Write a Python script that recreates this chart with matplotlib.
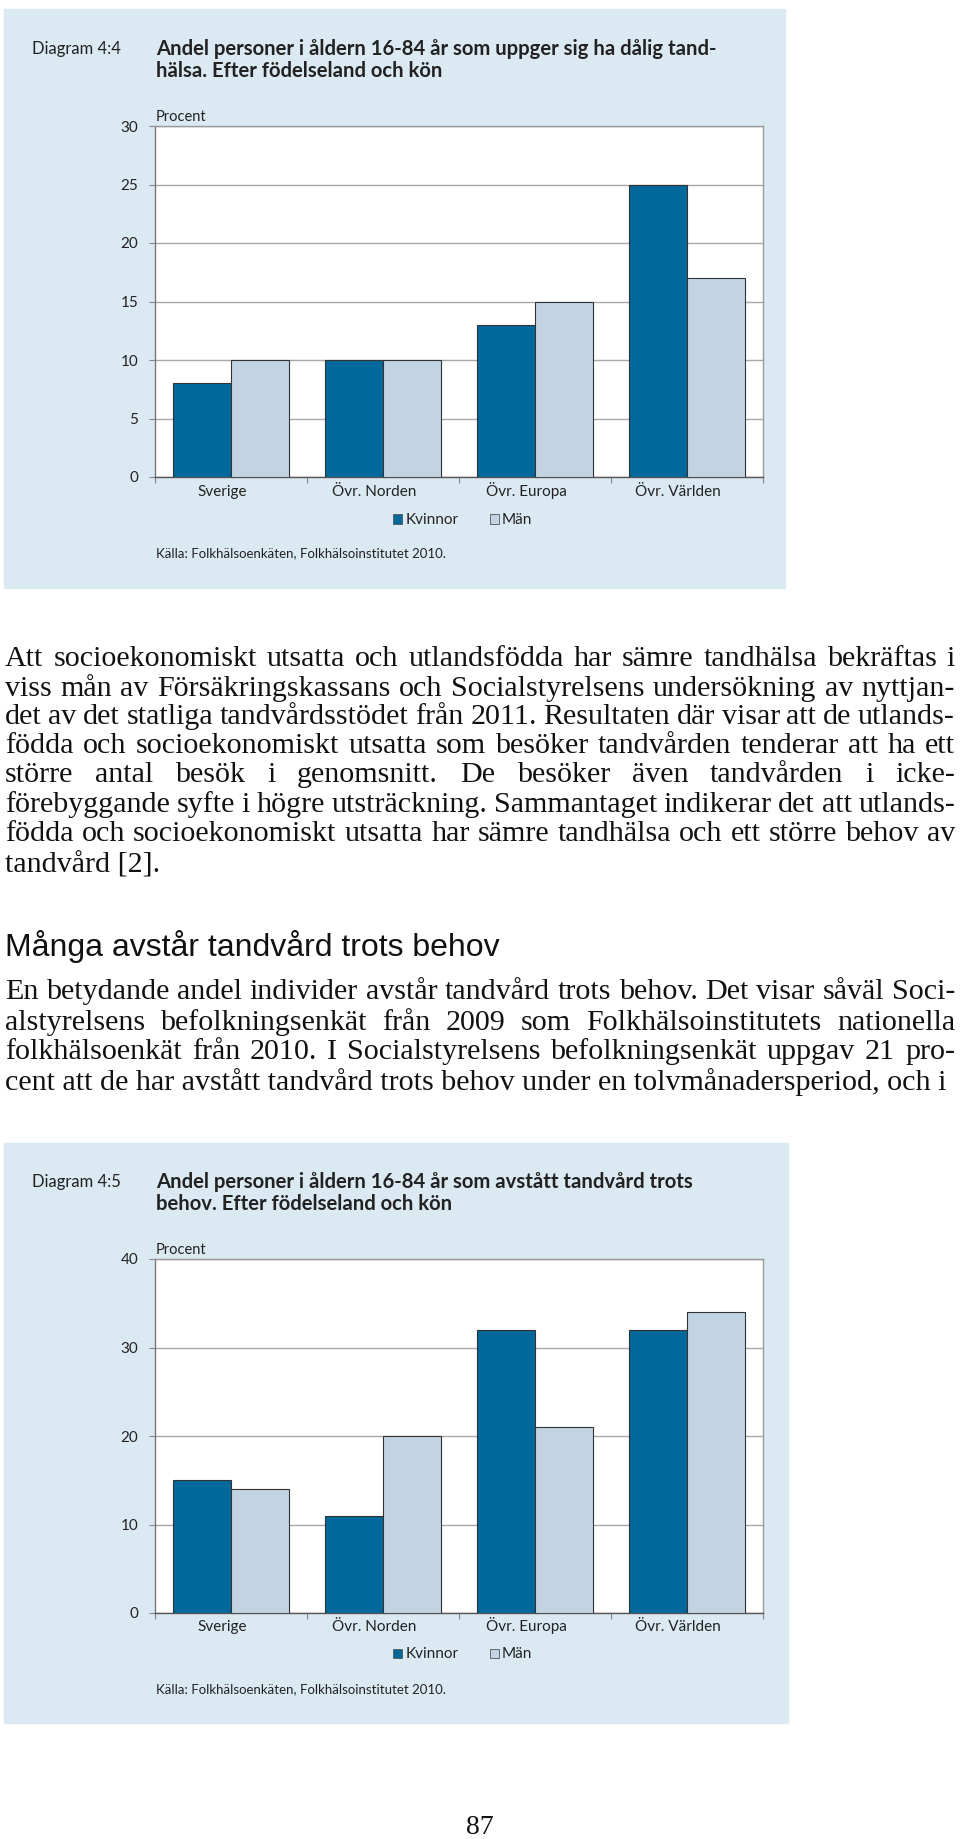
import numpy as np
import matplotlib
matplotlib.use("Agg")
import matplotlib.pyplot as plt
from matplotlib.patches import Rectangle

# Data
kategorier = ["Sverige", "Övr. Norden", "Övr. Europa", "Övr. Världen"]
tand_kvinnor = [8, 10, 13, 25]
tand_man = [10, 10, 15, 17]
avstatt_kvinnor = [15, 11, 32, 32]
avstatt_man = [14, 20, 21, 34]
ticks_44 = [0, 5, 10, 15, 20, 25, 30]
ticks_45 = [0, 10, 20, 30, 40]

stycke1 = [
    "Att socioekonomiskt utsatta och utlandsfödda har sämre tandhälsa bekräftas i",
    "viss mån av Försäkringskassans och Socialstyrelsens undersökning av nyttjan-",
    "det av det statliga tandvårdsstödet från 2011. Resultaten där visar att de utlands-",
    "födda och socioekonomiskt utsatta som besöker tandvården tenderar att ha ett",
    "större antal besök i genomsnitt. De besöker även tandvården i icke-",
    "förebyggande syfte i högre utsträckning. Sammantaget indikerar det att utlands-",
    "födda och socioekonomiskt utsatta har sämre tandhälsa och ett större behov av",
    "tandvård [2].",
]
rubrik = "Många avstår tandvård trots behov"
stycke2 = [
    "En betydande andel individer avstår tandvård trots behov. Det visar såväl Soci-",
    "alstyrelsens befolkningsenkät från 2009 som Folkhälsoinstitutets nationella",
    "folkhälsoenkät från 2010. I Socialstyrelsens befolkningsenkät uppgav 21 pro-",
    "cent att de har avstått tandvård trots behov under en tolvmånadersperiod, och i",
]

W, H = 960, 1839
MORK = "#00689b"
LJUS = "#c2d4e3"
PANEL = "#dbe9f3"
CHART_FONT = "Lato"
SERIF = "Liberation Serif"

fig = plt.figure(figsize=(W / 100, H / 100), dpi=100)


def fx(x):
    return x / W


def fy(y):
    return 1 - y / H


def ftext(x, y, s, **kw):
    # y är textens mitt; flytta till baslinjen
    storlek = kw.get("fontsize", 10) * 100 / 72
    return fig.text(fx(x), fy(y + 0.34 * storlek), s, va="baseline", **kw)


def diagram(top, bottom, nr, titel, kv, ma, ticks, ymax, y_title, y_proc,
            y_lab, y_leg, y_src, panel):
    px0, py0, px1, py1 = panel
    fig.patches.append(Rectangle((fx(px0), fy(py1)), fx(px1 - px0), (py1 - py0) / H,
                                 transform=fig.transFigure, color=PANEL, zorder=-10))
    ftext(32, y_title, nr, fontsize=12, family=CHART_FONT, color="#222")
    ftext(156, y_title, titel[0], fontsize=14.6, family=CHART_FONT,
          weight="bold", color="#222")
    ftext(156, y_title + 22, titel[1], fontsize=14.6, family=CHART_FONT,
          weight="bold", color="#222")
    ftext(156, y_proc, "Procent", fontsize=10.5, family=CHART_FONT, color="#222")

    ax = fig.add_axes([fx(155), fy(bottom), fx(763 - 155), (bottom - top) / H])
    ax.set_zorder(2)
    x = np.arange(len(kategorier))
    w = 0.38
    ax.bar(x - w / 2, kv, w, color=MORK, edgecolor="#333", linewidth=0.8, zorder=3)
    ax.bar(x + w / 2, ma, w, color=LJUS, edgecolor="#333", linewidth=0.8, zorder=3)
    ax.set_xlim(-0.5, 3.5)
    ax.set_ylim(0, ymax)
    ax.set_yticks(ticks)
    ax.set_yticklabels([str(t) for t in ticks], fontsize=11, family=CHART_FONT,
                       color="#222")
    ax.yaxis.grid(True, color="#a8a8a8", linewidth=1.0, zorder=1)
    ax.set_axisbelow(True)
    ax.set_xticks(np.arange(-0.5, 4, 1))
    ax.set_xticklabels([])
    ax.tick_params(axis="x", direction="out", length=4, color="#888")
    ax.tick_params(axis="y", direction="out", length=4, color="#888", pad=8)
    for s in ["top", "right"]:
        ax.spines[s].set_color("#999")
    ax.spines["left"].set_color("#777")
    ax.spines["bottom"].set_color("#555")
    for s in ax.spines.values():
        s.set_linewidth(1.0)

    for i, k in enumerate(kategorier):
        cx = 155 + (i + 0.5) * (763 - 155) / 4 - 9
        ftext(cx, y_lab, k, fontsize=11, family=CHART_FONT, ha="center", color="#222")

    for sx, tx, col, lab in [(393, 406, MORK, "Kvinnor"), (490, 502, LJUS, "Män")]:
        fig.patches.append(Rectangle((fx(sx), fy(y_leg + 4.5)), fx(9), 9 / H,
                                     transform=fig.transFigure, facecolor=col,
                                     edgecolor="#555", linewidth=0.6))
        ftext(tx, y_leg, lab, fontsize=11, family=CHART_FONT, color="#222")

    ftext(156, y_src, "Källa: Folkhälsoenkäten, Folkhälsoinstitutet 2010.",
          fontsize=9.5, family=CHART_FONT, color="#222")
    return ax


diagram(126, 477, "Diagram 4:4",
        ["Andel personer i åldern 16-84 år som uppger sig ha dålig tand-",
         "hälsa. Efter födelseland och kön"],
        tand_kvinnor, tand_man, ticks_44, 30,
        48, 116, 491, 519, 553, (4, 9, 785, 588))

diagram(1259, 1613, "Diagram 4:5",
        ["Andel personer i åldern 16-84 år som avstått tandvård trots",
         "behov. Efter födelseland och kön"],
        avstatt_kvinnor, avstatt_man, ticks_45, 40,
        1181, 1249, 1626, 1653, 1689, (4, 1143, 788, 1723))

renderer = fig.canvas.get_renderer()
BODY = 21.6
LEFT, RIGHT = 5, 955


def justify(line, y, justera=True):
    if not justera:
        ftext(LEFT, y, line, fontsize=BODY, family=SERIF, color="#111")
        return
    ord_ = line.split(" ")
    texter = [ftext(0, y, o, fontsize=BODY, family=SERIF, color="#111") for o in ord_]
    bredd = [t.get_window_extent(renderer).width for t in texter]
    gap = (RIGHT - LEFT - sum(bredd)) / max(len(ord_) - 1, 1)
    x = LEFT
    for t, b in zip(texter, bredd):
        t.set_x(fx(x))
        x += b + gap


y1 = [656, 686, 714, 743, 772, 802, 831, 862]
for i, (rad, y) in enumerate(zip(stycke1, y1)):
    justify(rad, y, i < len(stycke1) - 1)

ftext(LEFT, 945, rubrik, fontsize=23, family="Liberation Sans", color="#111")

y2 = [989, 1020, 1049, 1080]
for i, (rad, y) in enumerate(zip(stycke2, y2)):
    justify(rad, y, i < len(stycke2) - 1)

ftext(480, 1825, "87", fontsize=20, family=SERIF, ha="center", color="#111")

fig.savefig("out.png", dpi=100)
